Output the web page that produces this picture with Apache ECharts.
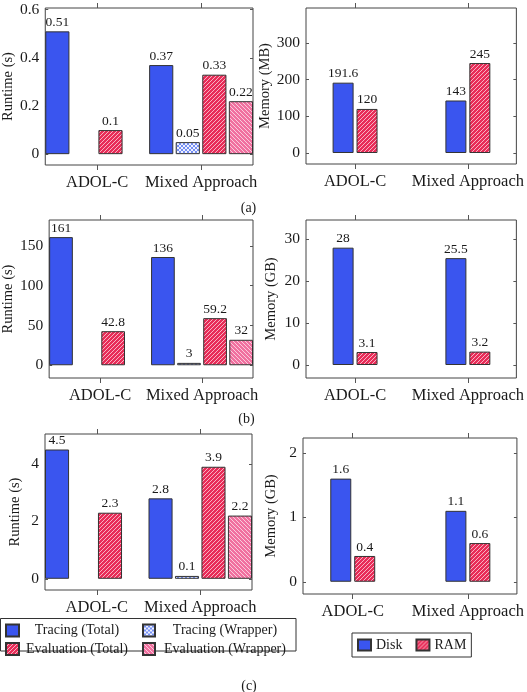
<!DOCTYPE html>
<html><head><meta charset="utf-8">
<script src="https://cdn.jsdelivr.net/npm/echarts@6/dist/echarts.min.js"></script>
<style>html,body{margin:0;padding:0;background:#fff}#c{width:527px;height:692px}</style>
</head><body><div id="c"></div>
<script>
// ---------- data ----------
const categories = ['ADOL-C', 'Mixed Approach'];
const runtimeNames = ['Tracing (Total)', 'Tracing (Wrapper)', 'Evaluation (Total)', 'Evaluation (Wrapper)'];
const memoryNames = ['Disk', 'RAM'];
const captions = ['(a)', '(b)', '(c)'];

// (a)
const aTracingTotal = [0.51, 0.37];
const aTracingWrapper = [null, 0.05];
const aEvalTotal = [0.1, 0.33];
const aEvalWrapper = [null, 0.22];
const aDisk = [191.6, 143];
const aRam = [120, 245];
const aRuntimeTicks = [0, 0.2, 0.4, 0.6];
const aMemoryTicks = [0, 100, 200, 300];
// (b)
const bTracingTotal = [161, 136];
const bTracingWrapper = [null, 3];
const bEvalTotal = [42.8, 59.2];
const bEvalWrapper = [null, 32];
const bDisk = [28, 25.5];
const bRam = [3.1, 3.2];
const bRuntimeTicks = [0, 50, 100, 150];
const bMemoryTicks = [0, 10, 20, 30];
// (c)
const cTracingTotal = [4.5, 2.8];
const cTracingWrapper = [null, 0.1];
const cEvalTotal = [2.3, 3.9];
const cEvalWrapper = [null, 2.2];
const cDisk = [1.6, 1.1];
const cRam = [0.4, 0.6];
const cRuntimeTicks = [0, 2, 4];
const cMemoryTicks = [0, 1, 2];

const runtimeSets = [
  [aTracingTotal, aTracingWrapper, aEvalTotal, aEvalWrapper],
  [bTracingTotal, bTracingWrapper, bEvalTotal, bEvalWrapper],
  [cTracingTotal, cTracingWrapper, cEvalTotal, cEvalWrapper]
];
const memorySets = [[aDisk, aRam], [bDisk, bRam], [cDisk, cRam]];
const runtimeTickSets = [aRuntimeTicks, bRuntimeTicks, cRuntimeTicks];
const memoryTickSets = [aMemoryTicks, bMemoryTicks, cMemoryTicks];
const memoryUnits = ['Memory (MB)', 'Memory (GB)', 'Memory (GB)'];

// ---------- layout / style ----------
const FONT = 'Liberation Serif';
const TXT = '#1a1a1a';
const runtimeLayout = [
  {left: 45, top: 8, width: 208, height: 157, ymin: -0.045, ymax: 0.607, nameGap: 26},
  {left: 45, top: 220, width: 208, height: 158, ymin: -16, ymax: 182.5, nameGap: 27},
  {left: 45, top: 434, width: 207, height: 156, ymin: -0.39, ymax: 5.04, nameGap: 22}
];
const memoryLayout = [
  {left: 306, top: 8, width: 214, height: 156, ymin: -30, ymax: 395, xmin: -0.435, xmax: 1.43, nameGap: 27},
  {left: 306, top: 220, width: 215, height: 158, ymin: -3.1, ymax: 34.6, xmin: -0.435, xmax: 1.43, nameGap: 27},
  {left: 303, top: 438, width: 215, height: 156, ymin: -0.19, ymax: 2.23, xmin: -0.432, xmax: 1.426, nameGap: 24}
];
const captionPos = [[248.5, 208], [246.5, 419], [249, 686]];

function hatch(bg, fg, dir, size, lw) {
  const c = document.createElement('canvas'); c.width = c.height = size;
  const g = c.getContext('2d');
  g.fillStyle = bg; g.fillRect(0, 0, size, size);
  g.strokeStyle = fg; g.lineWidth = lw;
  g.beginPath();
  for (let k = -1; k <= 1; k++) {
    if (dir >= 0) { g.moveTo(k * size, size); g.lineTo(k * size + size, 0); }
    if (dir <= 0) { g.moveTo(k * size, 0); g.lineTo(k * size + size, size); }
  }
  g.stroke();
  return c;
}
const BLUE = '#3a55ef';
const redPat = {image: hatch('#e82c58', 'rgba(255,255,255,0.85)', 1, 4, 0.75), repeat: 'repeat'};
const pinkPat = {image: hatch('#f0709f', 'rgba(255,255,255,0.85)', -1, 4, 0.75), repeat: 'repeat'};
const crossPat = {image: hatch('#eef1ff', '#6783f3', 0, 4, 0.9), repeat: 'repeat'};
const runtimeColors = [BLUE, crossPat, redPat, pinkPat];
const memoryColors = [BLUE, redPat];

const grid = [], xAxis = [], yAxis = [], series = [];
function addYAxes(gi, lay, ticks, name) {
  yAxis.push({
    type: 'value', gridIndex: gi, min: lay.ymin, max: lay.ymax, position: 'left',
    name: name, nameLocation: 'middle', nameGap: lay.nameGap, nameRotate: 90,
    nameTextStyle: {fontFamily: FONT, fontSize: 14.5, color: TXT},
    axisLine: {show: false, onZero: false}, splitLine: {show: false},
    axisTick: {show: true, inside: true, length: 3, customValues: ticks, lineStyle: {color: '#555'}},
    axisLabel: {customValues: ticks, margin: 6, fontFamily: FONT, fontSize: 15.5, color: TXT}
  });
  yAxis.push({
    type: 'value', gridIndex: gi, min: lay.ymin, max: lay.ymax, position: 'right',
    axisLine: {show: false, onZero: false}, splitLine: {show: false},
    axisTick: {show: true, inside: true, length: 3, customValues: ticks, lineStyle: {color: '#555'}},
    axisLabel: {show: false}
  });
}
const labelOpt = {
  show: true, position: 'top', distance: 2, color: TXT, fontFamily: FONT, fontSize: 13.5
};
const catLabel = {margin: 9, fontFamily: FONT, fontSize: 16.5, color: TXT, interval: 0, hideOverlap: false};

for (let p = 0; p < 3; p++) {
  // runtime panel
  let gi = grid.length;
  let lay = runtimeLayout[p];
  grid.push({left: lay.left, top: lay.top, width: lay.width, height: lay.height,
    show: true, borderColor: '#444', borderWidth: 1, backgroundColor: 'transparent'});
  xAxis.push({type: 'category', gridIndex: gi, data: categories, position: 'bottom',
    axisLine: {show: false, onZero: false},
    axisTick: {show: true, alignWithLabel: true, interval: 0, length: 5, lineStyle: {color: '#555'}},
    axisLabel: catLabel});
  xAxis.push({type: 'category', gridIndex: gi, data: categories, position: 'top',
    axisLine: {show: false, onZero: false},
    axisTick: {show: true, alignWithLabel: true, interval: 0, length: 5, lineStyle: {color: '#555'}},
    axisLabel: {show: false}});
  addYAxes(gi, lay, runtimeTickSets[p], 'Runtime (s)');
  runtimeSets[p].forEach((vals, k) => {
    series.push({
      type: 'bar', name: runtimeNames[k], xAxisIndex: 2 * gi, yAxisIndex: 2 * gi,
      data: vals.map(v => v === null ? '-' : v),
      barGap: '10%', barCategoryGap: '0%',
      itemStyle: {color: runtimeColors[k], borderColor: '#333', borderWidth: 1},
      label: labelOpt
    });
  });
  // memory panel
  gi = grid.length;
  lay = memoryLayout[p];
  grid.push({left: lay.left, top: lay.top, width: lay.width, height: lay.height,
    show: true, borderColor: '#444', borderWidth: 1, backgroundColor: 'transparent'});
  const xTicks = categories.map((c, i) => i);
  xAxis.push({type: 'value', gridIndex: gi, min: lay.xmin, max: lay.xmax, position: 'bottom',
    axisLine: {show: false, onZero: false}, splitLine: {show: false},
    axisTick: {show: true, length: 5, customValues: xTicks, lineStyle: {color: '#555'}},
    axisLabel: Object.assign({}, catLabel, {customValues: xTicks, formatter: v => categories[Math.round(v)]})});
  xAxis.push({type: 'value', gridIndex: gi, min: lay.xmin, max: lay.xmax, position: 'top',
    axisLine: {show: false, onZero: false}, splitLine: {show: false},
    axisTick: {show: true, length: 5, customValues: xTicks, lineStyle: {color: '#555'}},
    axisLabel: {show: false}});
  addYAxes(gi, lay, memoryTickSets[p], memoryUnits[p]);
  memorySets[p].forEach((vals, k) => {
    series.push({
      type: 'bar', name: memoryNames[k], xAxisIndex: 2 * gi, yAxisIndex: 2 * gi,
      data: vals.map((v, i) => [i, v]),
      barWidth: 21, barGap: '14%',
      itemStyle: {color: memoryColors[k], borderColor: '#333', borderWidth: 1},
      label: Object.assign({}, labelOpt, {formatter: pr => String(pr.value[1])})
    });
  });
}

const legendText = (w) => ({
  fontFamily: FONT, fontSize: 14, color: TXT,
  rich: {t: {width: w, align: 'center', fontFamily: FONT, fontSize: 14, color: TXT, lineHeight: 12}}
});
const legend = [
  {data: runtimeNames.filter((n, i) => i % 2 === 0).map(n => ({name: n, icon: 'rect'})),
    orient: 'vertical', left: 5, top: 623.5, padding: 0,
    itemWidth: 13, itemHeight: 12, itemGap: 4.5, selectedMode: false,
    formatter: n => '{t|' + n + '}', textStyle: legendText(106)},
  {data: runtimeNames.filter((n, i) => i % 2 === 1).map(n => ({name: n, icon: 'rect'})),
    orient: 'vertical', left: 142, top: 623.5, padding: 0,
    itemWidth: 12, itemHeight: 12, itemGap: 4.5, selectedMode: false,
    formatter: n => '{t|' + n + '}', textStyle: legendText(130)},
  {data: memoryNames.map(n => ({name: n, icon: 'rect'})), orient: 'horizontal', left: 352, top: 633, padding: [5, 5],
    itemWidth: 13, itemHeight: 11, itemGap: 13, selectedMode: false,
    borderColor: '#333', borderWidth: 1,
    textStyle: {fontFamily: FONT, fontSize: 14, color: TXT, lineHeight: 12}}
];

const graphic = [
  {type: 'rect', shape: {x: 0.5, y: 618.5, width: 295.5, height: 32.5},
    style: {fill: 'none', stroke: '#333', lineWidth: 1}, silent: true}
].concat(captions.map((t, i) => ({
  type: 'text', x: captionPos[i][0], y: captionPos[i][1], silent: true,
  style: {text: t, textAlign: 'center', textVerticalAlign: 'middle',
    font: '14px "' + FONT + '"', fill: TXT}
})));

const chart = echarts.init(document.getElementById('c'), null, {renderer: 'canvas'});
chart.setOption({
  animation: false,
  backgroundColor: '#fff',
  textStyle: {fontFamily: FONT},
  grid, xAxis, yAxis, series, legend, graphic
});
</script></body></html>
